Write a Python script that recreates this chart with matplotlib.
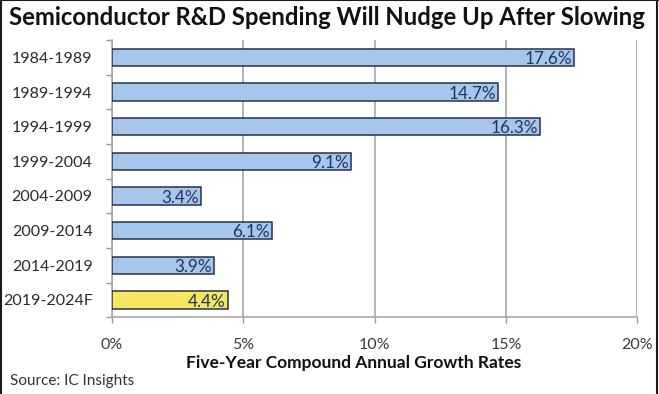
import matplotlib
matplotlib.use("Agg")
import matplotlib.pyplot as plt
import numpy as np

periods = ["1984-1989", "1989-1994", "1994-1999", "1999-2004",
           "2004-2009", "2009-2014", "2014-2019", "2019-2024F"]
cagr = [17.6, 14.7, 16.3, 9.1, 3.4, 6.1, 3.9, 4.4]
bar_colors = ["#a6c6ec"] * 7 + ["#f6e660"]
x_ticks = [0, 5, 10, 15, 20]
x_tick_labels = ["0%", "5%", "10%", "15%", "20%"]

plt.rcParams["font.family"] = ["Lato", "DejaVu Sans"]

fig = plt.figure(figsize=(6.59, 3.94), dpi=100)
ax = fig.add_axes([0.170, 0.195, 0.797, 0.703])

y = np.arange(len(periods))
ax.barh(y, cagr, height=0.5, color=bar_colors, edgecolor="#27304a",
        linewidth=1.1, zorder=3)
for yi, v in zip(y, cagr):
    ax.text(v - 0.08, yi + 0.05, f"{v:.1f}%", ha="right", va="center",
            fontsize=12.3, color="#1f3460", zorder=4)

ax.set_ylim(len(periods) - 0.5, -0.5)
ax.set_xlim(0, 20)
ax.set_yticks(y)
ax.set_yticklabels(periods, fontsize=11.5, color="#2a2a2a")
ax.set_yticks(np.arange(-0.5, len(periods), 1), minor=True)
ax.tick_params(axis="y", which="major", length=0, pad=14)
ax.tick_params(axis="y", which="minor", length=4, color="#9a9a9a", width=1)
ax.set_xticks(x_ticks)
ax.set_xticklabels(x_tick_labels, fontsize=11.5, color="#3a3a3a")
ax.tick_params(axis="x", length=4, color="#9a9a9a", width=1, pad=11)
ax.grid(axis="x", color="#a8a8a8", linewidth=1.2, zorder=0)
for side in ["top", "right"]:
    ax.spines[side].set_visible(False)
for side in ["left", "bottom"]:
    ax.spines[side].set_color("#a8a8a8")
    ax.spines[side].set_linewidth(1.2)

ax.set_xlabel("Five-Year Compound Annual Growth Rates", fontsize=12.5,
              fontweight="bold", color="#111111")
ax.xaxis.set_label_coords(0.46, -0.137)

fig.text(0.013, 0.955, "Semiconductor R&D Spending Will Nudge Up After Slowing",
         fontsize=17.2, fontweight="bold", color="#111111", va="center")
fig.text(0.015, 0.033, "Source: IC Insights", fontsize=11, color="#333333",
         va="center")

# dark screenshot frame on the left, top and right edges
for xs, ys in [([0.001, 0.001], [0, 1]), ([0.997, 0.997], [0, 1]),
               ([0, 1], [0.999, 0.999])]:
    fig.add_artist(plt.Line2D(xs, ys, transform=fig.transFigure,
                              color="#1a1a1a", linewidth=1.5))

fig.savefig("out.png", dpi=100)
